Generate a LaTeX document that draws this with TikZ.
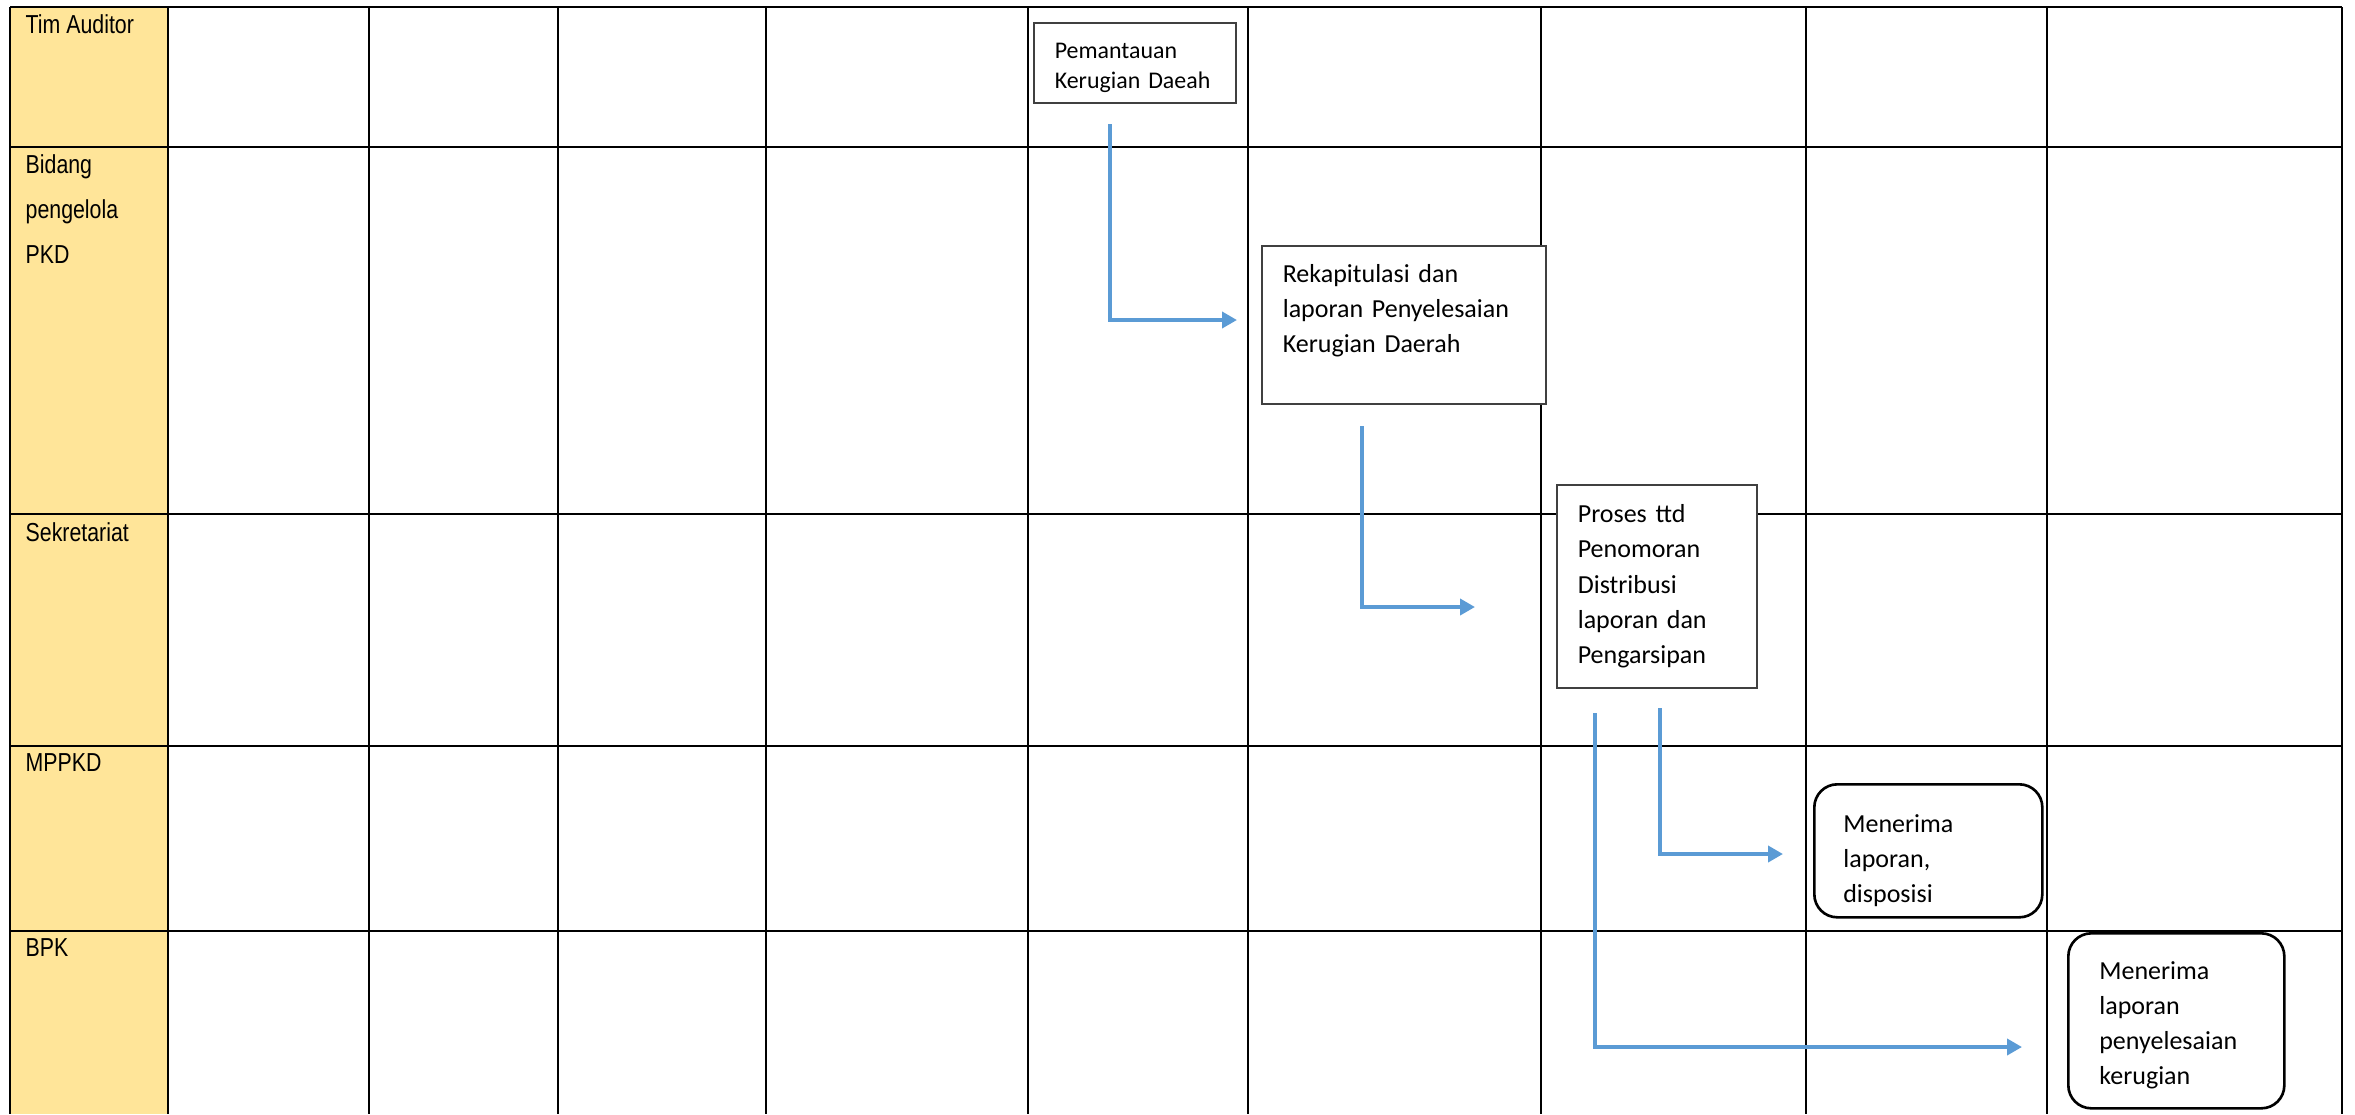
\documentclass[tikz,border=0pt]{standalone}
\usepackage{fontspec}
\setmainfont{Carlito}
\newfontfamily\lanefont[FakeStretch=0.82]{Liberation Sans}
\usetikzlibrary{arrows.meta}
\definecolor{laneFill}{RGB}{255,229,153}
\definecolor{flowBlue}{RGB}{91,155,213}
\definecolor{boxLine}{RGB}{64,64,64}

\begin{document}
\begin{tikzpicture}[
    grid/.style={line width=0.65pt, black},
    box/.style={draw=boxLine, line width=0.45pt, fill=white, anchor=north west,
                align=left, inner ysep=0pt, font=\fontsize{7.4}{10}\selectfont},
    rbox/.style={box, draw=black, line width=0.75pt, rounded corners=0.23cm},
    lane/.style={anchor=north west, inner sep=0pt, align=left,
                 font=\fontsize{7.4}{12.8}\selectfont\lanefont},
    arr/.style={-{Triangle[length=0.15cm,width=0.16cm]}, flowBlue, line width=1.2pt}
  ]
  \useasboundingbox (0,0) rectangle (23.55,-11.14);
  \fill[laneFill] (0.10,-0.07) rectangle (1.68,-11.14);

  \draw[grid] (0.10,-0.07) -- (23.42,-0.07);
  \draw[grid] (0.10,-1.47) -- (23.42,-1.47);
  \draw[grid] (0.10,-5.14) -- (23.42,-5.14);
  \draw[grid] (0.10,-7.46) -- (23.42,-7.46);
  \draw[grid] (0.10,-9.31) -- (23.42,-9.31);
  \draw[grid] (0.10,-0.07) -- (0.10,-11.14);
  \draw[grid] (1.68,-0.07) -- (1.68,-11.14);
  \draw[grid] (3.69,-0.07) -- (3.69,-11.14);
  \draw[grid] (5.58,-0.07) -- (5.58,-11.14);
  \draw[grid] (7.66,-0.07) -- (7.66,-11.14);
  \draw[grid] (10.28,-0.07) -- (10.28,-11.14);
  \draw[grid] (12.48,-0.07) -- (12.48,-11.14);
  \draw[grid] (15.41,-0.07) -- (15.41,-11.14);
  \draw[grid] (18.06,-0.07) -- (18.06,-11.14);
  \draw[grid] (20.47,-0.07) -- (20.47,-11.14);
  \draw[grid] (23.42,-0.07) -- (23.42,-11.14);

  \node[lane] (tim) at (0.25,-0.14) {Tim Auditor};
  \node[lane] (bid) at (0.25,-1.54) {Bidang\\pengelola\\PKD};
  \node[lane] (sek) at (0.25,-5.22) {Sekretariat};
  \node[lane] (mpk) at (0.25,-7.53) {MPPKD};
  \node[lane] (bpkl) at (0.25,-9.38) {BPK};

  \node[box, minimum width=2.02cm, minimum height=0.80cm, text width=1.60cm, inner xsep=0.21cm,
        font=\fontsize{6.8}{8.5}\selectfont] (pem) at (10.33,-0.22) {\mbox{}\\[-0.05cm]Pemantauan\\Kerugian Daeah};
  \node[box, minimum width=2.84cm, minimum height=1.58cm, text width=2.42cm, inner xsep=0.21cm]
        (rek) at (12.61,-2.45) {Rekapitulasi dan\\laporan Penyelesaian\\Kerugian Daerah\\[-0.02cm]\mbox{}};
  \node[box, minimum width=2.00cm, minimum height=2.03cm, text width=1.58cm, inner xsep=0.21cm]
        (pro) at (15.56,-4.84) {Proses ttd\\Penomoran\\Distribusi\\laporan dan\\Pengarsipan};
  \node[rbox, minimum width=2.28cm, minimum height=1.33cm, text width=1.70cm, inner xsep=0.29cm]
        (mpp) at (18.13,-7.83) {\mbox{}\\[0.02cm]Menerima\\laporan,\\disposisi};
  \node[rbox, minimum width=2.16cm, minimum height=1.75cm, text width=1.54cm, inner xsep=0.31cm]
        (bpk) at (20.67,-9.32) {\mbox{}\\[-0.08cm]Menerima\\laporan\\penyelesaian\\kerugian};

  \coordinate (fromPem) at (11.10,-1.24);
  \coordinate (toRek) at (12.37,-3.20);
  \coordinate (fromRek) at (13.62,-4.26);
  \coordinate (toPro) at (14.75,-6.07);
  \coordinate (fromProA) at (16.60,-7.08);
  \coordinate (toMpp) at (17.83,-8.54);
  \coordinate (fromProB) at (15.95,-7.13);
  \coordinate (toBpk) at (20.22,-10.47);

  \draw[arr] (fromPem) |- (toRek);
  \draw[arr] (fromRek) |- (toPro);
  \draw[arr] (fromProA) |- (toMpp);
  \draw[arr] (fromProB) |- (toBpk);
\end{tikzpicture}
\end{document}
